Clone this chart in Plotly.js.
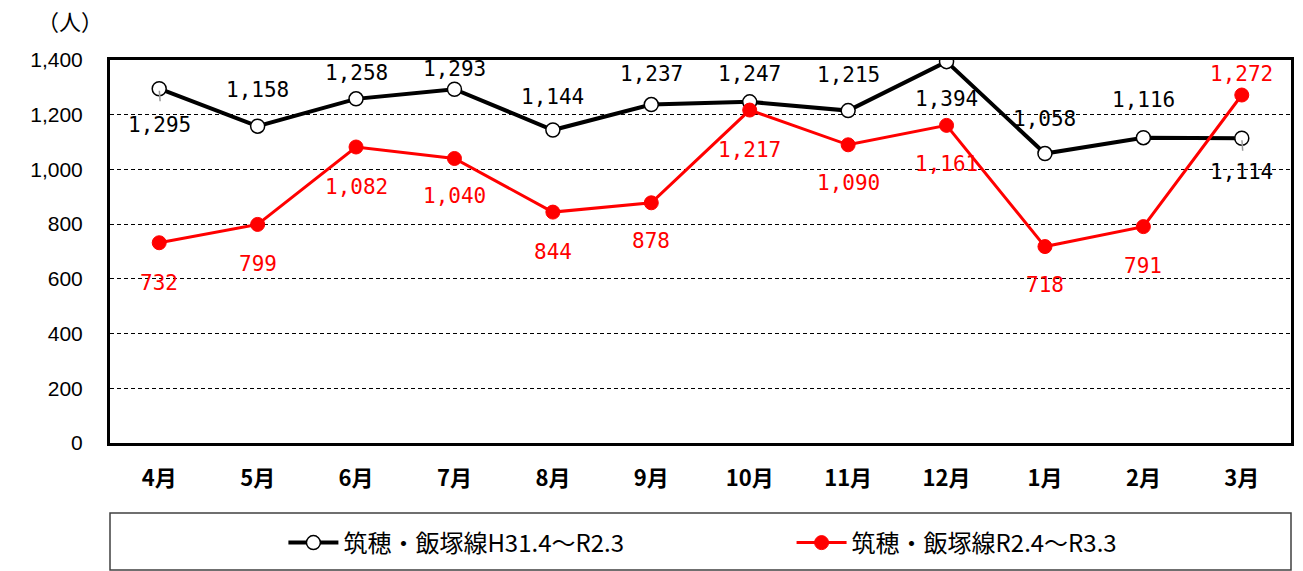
<!DOCTYPE html>
<html>
<head>
<meta charset="utf-8">
<script src="https://cdn.plot.ly/plotly-3.0.1.min.js"></script>
<style>html,body{margin:0;padding:0;background:#fff;}#chart{width:1303px;height:571px;}</style>
</head>
<body>
<div id="chart"></div>
<script>
// ---- data ----
const months = ['4月','5月','6月','7月','8月','9月','10月','11月','12月','1月','2月','3月'];
const nameH31 = '筑穂・飯塚線H31.4～R2.3';
const nameR2 = '筑穂・飯塚線R2.4～R3.3';
const valuesH31 = [1295,1158,1258,1293,1144,1237,1247,1215,1394,1058,1116,1114];
const valuesR2 = [732,799,1082,1040,844,878,1217,1090,1161,718,791,1272];
const unitLabel = '（人）';

// ---- label placement (pixels; positive = above point) ----
const shiftH31 = [-36,36,26,20,33,31,28,36,-37,35,38,-34];
const shiftR2 = [-40,-40,-40,-38,-40,-38,-40,-38,-39,-38,-39,21];
const leaderH31 = [0,11];

const fmt = v => v.toLocaleString('en-US');
const labelFont = {family:'DejaVu Sans Mono, monospace', size:21};

const annotations = [];
valuesH31.forEach((v,i)=>{
  annotations.push({x:months[i], y:v, xref:'x', yref:'y', text:fmt(v), showarrow:false,
    yshift:shiftH31[i], font:Object.assign({color:'#000'}, labelFont)});
});
leaderH31.forEach(i=>{
  annotations.push({x:months[i], y:valuesH31[i], xref:'x', yref:'y', text:'', showarrow:true,
    arrowhead:0, arrowwidth:1.5, arrowcolor:'#9a9a9a', ax:1, ay:14, standoff:2});
});
valuesR2.forEach((v,i)=>{
  annotations.push({x:months[i], y:v, xref:'x', yref:'y', text:fmt(v), showarrow:false,
    yshift:shiftR2[i], font:Object.assign({color:'#ff0000'}, labelFont)});
});
annotations.push({xref:'paper', yref:'paper', x:-0.034, y:1.104, xanchor:'center', yanchor:'middle',
  text:unitLabel, showarrow:false, font:{family:'Noto Sans CJK JP', size:22, color:'#000'}});

const traces = [
  {type:'scatter', mode:'lines+markers', name:nameH31, x:months, y:valuesH31, legend:'legend',
   line:{color:'#000', width:4}, marker:{symbol:'circle', size:14, color:'#fff', line:{color:'#000', width:1.5}}},
  {type:'scatter', mode:'lines+markers', name:nameR2, x:months, y:valuesR2, legend:'legend2',
   line:{color:'#ff0000', width:3}, marker:{symbol:'circle', size:14, color:'#ff0000', line:{color:'#ff0000', width:1}}}
];

const legendFont = {family:'Noto Sans CJK JP', size:24, color:'#000'};
const layout = {
  width:1303, height:571,
  margin:{l:110, r:12, t:60, b:128},
  paper_bgcolor:'#fff', plot_bgcolor:'#fff',
  showlegend:true,
  legend:{orientation:'h', xref:'container', yref:'container', x:0.2175, y:0.049, itemwidth:50,
    xanchor:'left', yanchor:'middle', font:legendFont, bgcolor:'rgba(0,0,0,0)', borderwidth:0},
  legend2:{orientation:'h', xref:'container', yref:'container', x:0.6075, y:0.049, itemwidth:50,
    xanchor:'left', yanchor:'middle', font:legendFont, bgcolor:'rgba(0,0,0,0)', borderwidth:0},
  xaxis:{type:'category', range:[-0.5,11.5], showgrid:false, zeroline:false,
    showline:true, mirror:true, linecolor:'#000', linewidth:3, ticks:'',
    ticklabelstandoff:14, automargin:false,
    tickfont:{family:'Noto Sans CJK JP', size:22, color:'#000', weight:'bold'}},
  yaxis:{range:[0,1400], dtick:200, tick0:0, tickformat:',d', showgrid:true,
    gridcolor:'#000', gridwidth:1, griddash:'4px,3px', zeroline:false,
    showline:true, mirror:true, linecolor:'#000', linewidth:3, ticks:'',
    ticklabelstandoff:20, automargin:false,
    tickfont:{family:'Liberation Sans, Arial', size:21, color:'#000'}},
  shapes:[{type:'rect', xref:'paper', yref:'paper', x0:0, x1:1, y0:-0.183, y1:-0.3316,
    line:{color:'#404040', width:1.5}, fillcolor:'rgba(0,0,0,0)', layer:'below'}],
  annotations:annotations
};

Plotly.newPlot('chart', traces, layout, {displayModeBar:false, staticPlot:true});
</script>
</body>
</html>
